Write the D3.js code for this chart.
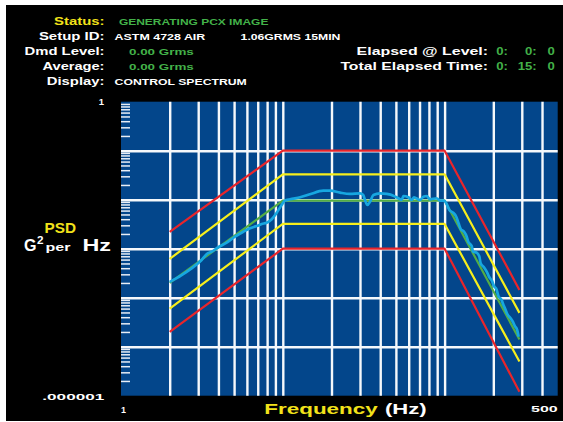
<!DOCTYPE html>
<html>
<head>
<meta charset="utf-8">
<script src="https://cdn.jsdelivr.net/npm/d3@7"></script>
<style>
    html, body { margin: 0; padding: 0; background: #ffffff; }
    svg { display: block; }
    text { font-family: "Liberation Sans", Arial, Helvetica, sans-serif; font-weight: bold; }
</style>
</head>
<body>
<svg id="chart" width="563" height="422"></svg>
<script>
// profile breakpoints (Hz) and limit lines (G^2/Hz)
const freqBreaks = [2, 10, 100, 290];
const referencePsd = [0.0002, 0.0096, 0.0096, 0.000014];
const upperAbortPsd = [0.0022, 0.1, 0.1, 0.000144];
const upperAlarmPsd = [0.00062, 0.033, 0.033, 0.000049];
const lowerAlarmPsd = [0.00006, 0.0032, 0.0032, 0.000005];
const lowerAbortPsd = [0.00002, 0.001, 0.001, 0.0000012];

// measured control spectrum
const controlFreq = [2.0, 2.37, 2.73, 3.15, 3.39, 3.64, 3.99, 4.5, 5.07, 5.7, 6.27, 6.9, 7.41, 7.95, 8.54, 9.17, 9.84, 10.3, 11.07,
    12.8, 14.7, 17.8, 19.6, 22.6, 26.0, 30.0, 31.4, 32.2, 33.3, 34.6, 36.3, 39.9, 43.9, 48.2, 51.7, 54.3, 55.6, 59.7, 62.6, 64.7,
    70.5, 73.9, 77.5, 81.3, 89.4, 93.7, 99.2, 103, 107, 113, 118, 122, 126, 132, 137, 140, 147, 150, 158, 164, 167, 175, 182,
    189, 196, 202, 210, 215, 225, 231, 236, 244, 256, 264, 272, 281, 287];
const controlPsd = [0.00021, 0.00029, 0.000398, 0.000588, 0.000779, 0.000869, 0.00107, 0.00133, 0.00176, 0.00222, 0.00261,
    0.0029, 0.00319, 0.00339, 0.00398, 0.00543, 0.0078, 0.00955, 0.0102,
    0.0112, 0.0129, 0.0153, 0.0153, 0.0139, 0.0131, 0.0135, 0.0125, 0.00986, 0.0078, 0.0091, 0.0125, 0.0135, 0.0131, 0.0121,
    0.0107, 0.00986, 0.0119, 0.0112, 0.00986, 0.0112, 0.00986, 0.0115, 0.0119, 0.0102, 0.0107, 0.0096, 0.00955, 0.00817,
    0.00616, 0.00543, 0.0045, 0.0033, 0.00249, 0.00222, 0.00176, 0.00139, 0.00114, 0.000869, 0.000828, 0.000687, 0.000504,
    0.000417, 0.00034, 0.000261, 0.000222, 0.000173, 0.000144, 0.000108, 0.0000898, 0.000071, 0.0000608, 0.0000465,
    0.000038, 0.0000324, 0.0000264, 0.0000219, 0.000016];

// grid and tick values
const xDomain = [1, 500];
const yDomain = [0.000001, 1];
const xGridHz = [2, 3, 4, 5, 6, 7, 8, 9, 10, 20, 30, 40, 50, 60, 70, 80, 90, 100, 200, 300, 400];
const yGridPsd = [0.1, 0.01, 0.001, 0.0001, 0.00001];
const yMinorMultipliers = [2, 3, 4, 5, 6, 7, 8, 9];
const yTickLabels = ['.000001', '1'];
const xTickLabels = ['1', '500'];

// status header
const headerLabels = ['Status:', 'Setup ID:', 'Dmd Level:', 'Average:', 'Display:'];
const headerValues = ['GENERATING PCX IMAGE', 'ASTM 4728 AIR', '0.00 Grms', '0.00 Grms', 'CONTROL SPECTRUM'];
const setupNote = '1.06GRMS 15MIN';
const timerLabels = ['Elapsed @ Level:', 'Total Elapsed Time:'];
const timerValues = [['0:', '0:', '0'], ['0:', '15:', '0']];

function PsdScreen() {
    const WHITE = '#ffffff';
    const YELLOW = '#f2e21a';
    const GREEN = '#43b249';
    const RED = '#e8252b';
    const LIMIT_YELLOW = '#f6ee1c';
    const REF_GREEN = '#53ad45';
    const CONTROL_BLUE = '#17a7e0';
    const PLOT_BLUE = '#03468b';

    let mSvg = d3.select('#chart');
    let mLeft = 121, mTop = 101.7, mRight = 557.7, mBottom = 395.7;

    let mX = d3.scaleLog().domain(xDomain).range([mLeft, mRight]);
    let mY = d3.scaleLog().domain(yDomain).range([mBottom, mTop]);

    function addText(parent, str, x, y, size, color, width, anchor = 'start') {
        let t = parent.append('text')
            .attr('x', x)
            .attr('y', y)
            .attr('font-size', size)
            .attr('fill', color)
            .attr('text-anchor', anchor)
            .text(str);
        if (width) {
            t.attr('textLength', width).attr('lengthAdjust', 'spacingAndGlyphs');
        }
        return t;
    }

    function drawPanel() {
        mSvg.append('rect')
            .attr('x', 6).attr('y', 5)
            .attr('width', 557).attr('height', 416)
            .attr('fill', '#000000');
        mSvg.append('rect')
            .attr('x', mLeft).attr('y', mTop)
            .attr('width', mRight - mLeft).attr('height', mBottom - mTop)
            .attr('fill', PLOT_BLUE);
    }

    function drawHeader() {
        let g = mSvg.append('g');
        let rowY = [25, 40.1, 55.2, 70.3, 85.4];
        let labelWidths = [50.5, 65.6, 80, 62, 57.7];
        let valueX = [118.9, 114.6, 129, 129, 114.6];
        let valueWidths = [149.5, 90.7, 64.8, 64.8, 132.2];
        let valueColors = [GREEN, WHITE, GREEN, GREEN, WHITE];

        headerLabels.forEach((label, i) => {
            addText(g, label, 104.5, rowY[i], 10.5, i == 0 ? YELLOW : WHITE, labelWidths[i], 'end');
            addText(g, headerValues[i], valueX[i], rowY[i], 8.8, valueColors[i], valueWidths[i]);
        });
        addText(g, setupNote, 240.6, rowY[1], 8.8, WHITE, 99.8);

        let timerWidths = [131.5, 147.7];
        let colEnds = [508, 536.7, 554.8];
        timerLabels.forEach((label, i) => {
            addText(g, label, 488.1, rowY[2 + i], 10.5, WHITE, timerWidths[i], 'end');
            timerValues[i].forEach((v, j) => {
                let t = addText(g, v, colEnds[j], rowY[2 + i], 10.5, GREEN, null, 'end');
                let w = t.node().getComputedTextLength();
                t.attr('textLength', w * 1.25).attr('lengthAdjust', 'spacingAndGlyphs');
            });
        });
    }

    function drawGrid() {
        let minorTicks = [];
        yGridPsd.concat([0.000001]).forEach(decade => {
            yMinorMultipliers.forEach(m => minorTicks.push(decade * m));
        });

        let xGrid = mSvg.append('g')
            .attr('transform', `translate(0,${mBottom})`)
            .call(d3.axisBottom(mX).tickValues(xGridHz).tickSize(-(mBottom - mTop)).tickFormat(''));
        xGrid.select('.domain').remove();
        xGrid.selectAll('line').attr('stroke', '#f5f8fb').attr('stroke-width', 2.4);

        let yGrid = mSvg.append('g')
            .attr('transform', `translate(${mLeft},0)`)
            .call(d3.axisLeft(mY).tickValues(yGridPsd).tickSize(-(mRight - mLeft)).tickFormat(''));
        yGrid.select('.domain').remove();
        yGrid.selectAll('line').attr('stroke', '#f5f8fb').attr('stroke-width', 2.4);

        let yMinor = mSvg.append('g')
            .attr('transform', `translate(${mLeft},0)`)
            .call(d3.axisLeft(mY).tickValues(minorTicks).tickSize(-9).tickFormat(''));
        yMinor.select('.domain').remove();
        yMinor.selectAll('line').attr('stroke', '#e8eef6').attr('stroke-width', 1.5);
    }

    function drawLines() {
        mSvg.append('clipPath').attr('id', 'plot-clip')
            .append('rect')
            .attr('x', mLeft).attr('y', mTop)
            .attr('width', mRight - mLeft).attr('height', mBottom - mTop);

        let g = mSvg.append('g').attr('clip-path', 'url(#plot-clip)');
        let line = d3.line().x(d => mX(d[0])).y(d => mY(d[1]));
        let smooth = d3.line().x(d => mX(d[0])).y(d => mY(d[1])).curve(d3.curveMonotoneX);

        let limits = [
            { psd: upperAbortPsd, color: RED },
            { psd: lowerAbortPsd, color: RED },
            { psd: upperAlarmPsd, color: LIMIT_YELLOW },
            { psd: lowerAlarmPsd, color: LIMIT_YELLOW },
            { psd: referencePsd, color: REF_GREEN },
        ];
        limits.forEach(limit => {
            g.append('path')
                .datum(freqBreaks.map((f, i) => [f, limit.psd[i]]))
                .attr('d', line)
                .attr('fill', 'none')
                .attr('stroke', limit.color)
                .attr('stroke-width', 2.2)
                .attr('stroke-linejoin', 'round');
        });

        g.append('path')
            .datum(controlFreq.map((f, i) => [f, controlPsd[i]]))
            .attr('d', smooth)
            .attr('fill', 'none')
            .attr('stroke', CONTROL_BLUE)
            .attr('stroke-width', 2.7)
            .attr('stroke-linejoin', 'round');
    }

    function drawAxisText() {
        let g = mSvg.append('g');
        addText(g, yTickLabels[1], 104, mY(1) + 3.5, 9.5, WHITE, null, 'end');
        addText(g, yTickLabels[0], 104.3, mY(0.000001) + 4.3, 9.5, WHITE, 62, 'end');
        addText(g, xTickLabels[0], mX(1), 413.3, 9, WHITE, null);
        addText(g, xTickLabels[1], mX(500), 412.3, 9, WHITE, 26.7, 'end');

        addText(g, 'Frequency', 264.3, 413.5, 15.5, YELLOW, 113.4);
        addText(g, '(Hz)', 385, 413.5, 15.5, WHITE, 41.7);

        // y axis title: PSD, G^2 per Hz
        addText(g, 'PSD', 44.5, 232.5, 14.5, YELLOW, 31.5);
        addText(g, 'G', 24, 251, 16, WHITE, 12.5);
        addText(g, '2', 37, 243.5, 10.5, WHITE, 6.5);
        addText(g, 'per', 45.5, 251, 11.5, WHITE, 25);
        addText(g, 'Hz', 82.5, 251, 16, WHITE, 28.5);
    }

    drawPanel();
    drawHeader();
    drawGrid();
    drawLines();
    drawAxisText();
}

PsdScreen();
</script>
</body>
</html>
